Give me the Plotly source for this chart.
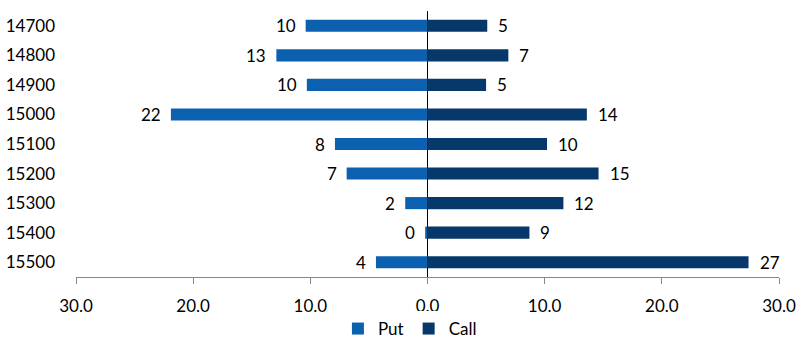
import plotly.graph_objects as go

strikes = ["14700", "14800", "14900", "15000", "15100", "15200", "15300", "15400", "15500"]
put_vals = [10.4, 12.9, 10.3, 21.9, 7.9, 6.9, 1.9, 0.2, 4.4]
call_vals = [5.1, 6.9, 5.0, 13.6, 10.2, 14.6, 11.6, 8.7, 27.4]
tick_vals = [-30, -20, -10, 0, 10, 20, 30]
tick_text = ["30.0", "20.0", "10.0", "0.0", "10.0", "20.0", "30.0"]

PUT_COLOR = "#0B60B0"
CALL_COLOR = "#06386B"
FONT = "Lato, 'Open Sans', sans-serif"

fig = go.Figure()
fig.add_trace(go.Bar(
    y=strikes, x=[-v for v in put_vals], name="Put", orientation="h",
    marker=dict(color=PUT_COLOR, line=dict(width=0)),
))
fig.add_trace(go.Bar(
    y=strikes, x=call_vals, name="Call", orientation="h",
    marker=dict(color=CALL_COLOR, line=dict(width=0)),
))

annotations = []
for i, v in enumerate(put_vals):
    annotations.append(dict(x=-v, y=i, xref="x", yref="y", text=f"{int(v + 0.5):d}",
                            showarrow=False, xanchor="right", xshift=-8,
                            font=dict(size=17, color="#000000", family=FONT)))
for i, v in enumerate(call_vals):
    annotations.append(dict(x=v, y=i, xref="x", yref="y", text=f"{int(v + 0.5):d}",
                            showarrow=False, xanchor="left", xshift=9,
                            font=dict(size=17, color="#000000", family=FONT)))

fig.update_layout(
    width=796, height=347,
    margin=dict(l=76, r=17, t=11, b=70, autoexpand=False),
    paper_bgcolor="white", plot_bgcolor="white",
    barmode="relative", bargap=0.59,
    font=dict(family=FONT, size=17, color="#000000"),
    showlegend=True,
    legend=dict(orientation="h", x=0.475, xanchor="center",
                yref="container", y=0.0, yanchor="bottom",
                font=dict(size=17), traceorder="normal",
                itemwidth=30),
    annotations=annotations,
    xaxis=dict(range=[-30, 30], tickvals=tick_vals, ticktext=tick_text,
               showgrid=False, zeroline=True, zerolinecolor="#000000", zerolinewidth=1,
               showline=True, linecolor="#868686", linewidth=1,
               ticks="outside", ticklen=6, tickcolor="#868686",
               ticklabelstandoff=8,
               tickfont=dict(size=17), fixedrange=True),
    yaxis=dict(type="category", categoryorder="array", categoryarray=strikes,
               range=[len(strikes) - 0.5, -0.5],
               showgrid=False, zeroline=False, showline=False, ticks="",
               ticklabelstandoff=20, tickfont=dict(size=17)),
)

fig.write_html("out.html")
